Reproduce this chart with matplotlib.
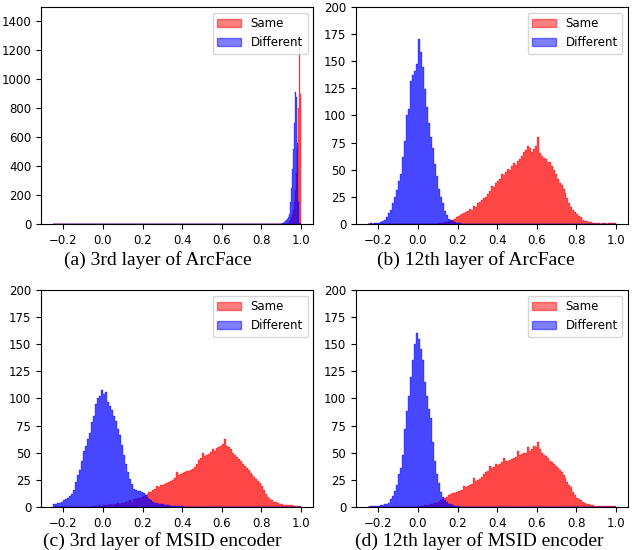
import numpy as np
import matplotlib
matplotlib.use("Agg")
import matplotlib.pyplot as plt
from matplotlib.patches import Patch
from matplotlib.ticker import MultipleLocator

# histogram counts: (first bin left edge, bin width, counts)
a_same_start, a_same_w = 0.93, 0.005
a_same = [5, 10, 18, 30, 45, 70, 100, 150, 230, 350, 520, 800, 1220, 900]
a_diff_start, a_diff_w = 0.90, 0.005
a_diff = [3, 5, 8, 12, 18, 25, 35, 45, 70, 150, 250, 380, 520, 700, 910, 880,
          560, 150, 10]

b_same_start, b_same_w = 0.10, 0.01
b_same = [1, 1, 1, 2, 2, 3, 3, 4, 5, 6, 7, 8, 9, 10, 11, 12, 14, 13, 17, 16,
          19, 20, 22, 24, 25, 28, 30, 35, 34, 38, 40, 41, 46, 45, 48, 51, 50, 53,
          56, 54, 58, 60, 63, 66, 68, 72, 70, 66, 69, 72, 80, 65, 63, 61, 60, 57,
          57, 53, 50, 46, 41, 38, 36, 32, 29, 24, 19, 16, 13, 11, 9, 7, 6, 4, 3,
          3, 2, 2, 1, 1, 1, 1, 0, 1, 1, 0, 1, 1, 1, 1]
b_diff_start, b_diff_w = -0.24, 0.01
b_diff = [1, 0, 1, 1, 1, 2, 3, 4, 6, 10, 13, 19, 25, 31, 40, 46, 62, 76, 100,
          106, 132, 137, 141, 147, 170, 158, 145, 124, 108, 93, 80, 70, 55, 44,
          32, 25, 19, 12, 8, 5, 4, 3, 2, 1, 1, 1]

c_same_start, c_same_w = -0.05, 0.01
c_same = [1, 1, 1, 2, 1, 2, 2, 2, 3, 2, 3, 3, 4, 3, 4, 4, 5, 5, 6, 5, 7, 7, 8,
          8, 9, 10, 11, 12, 14, 14, 16, 17, 19, 18, 20, 20, 21, 22, 23, 24, 25,
          27, 32, 29, 30, 31, 32, 33, 33, 34, 35, 37, 40, 43, 45, 50, 47, 48, 49,
          51, 53, 52, 54, 55, 56, 58, 63, 56, 55, 53, 50, 48, 46, 44, 42, 40, 38,
          36, 34, 31, 29, 28, 26, 24, 22, 19, 16, 12, 9, 7, 6, 5, 5, 4, 3, 3, 2,
          2, 2, 2, 2, 1, 1, 1, 1]
c_diff_start, c_diff_w = -0.25, 0.01
c_diff = [3, 3, 4, 4, 5, 6, 7, 8, 10, 12, 16, 23, 29, 34, 42, 52, 56, 63, 68,
          78, 84, 95, 100, 102, 108, 104, 106, 97, 93, 89, 84, 79, 72, 66, 57, 48,
          40, 32, 26, 21, 17, 16, 15, 15, 14, 13, 11, 9, 7, 6, 5, 4, 4, 3, 3, 3,
          2, 2, 2, 1, 1, 1, 1, 1, 1, 1]

d_same_start, d_same_w = 0.0, 0.01
d_same = [1, 1, 1, 2, 2, 2, 3, 3, 4, 4, 5, 6, 7, 8, 9, 11, 12, 13, 13, 14, 15,
          15, 16, 19, 18, 19, 20, 21, 27, 24, 25, 26, 28, 30, 32, 33, 38, 36, 37,
          40, 39, 40, 41, 45, 42, 42, 43, 44, 45, 46, 52, 48, 49, 50, 50, 55, 52,
          53, 56, 55, 60, 53, 50, 48, 47, 45, 42, 41, 40, 38, 36, 34, 32, 29, 27,
          23, 20, 18, 14, 11, 8, 7, 6, 5, 4, 3, 3, 2, 2, 1, 1, 1, 1, 1, 1, 1, 1,
          1, 1, 1]
d_diff_start, d_diff_w = -0.24, 0.01
d_diff = [1, 1, 1, 1, 1, 2, 2, 3, 3, 4, 7, 10, 15, 20, 30, 36, 48, 72, 88, 102,
          120, 135, 150, 160, 155, 145, 135, 115, 102, 90, 82, 60, 42, 30, 22, 14,
          9, 6, 5, 3, 3, 2, 1, 1, 1]

captions = ["(a) 3rd layer of ArcFace", "(b) 12th layer of ArcFace",
            "(c) 3rd layer of MSID encoder", "(d) 12th layer of MSID encoder"]
labels = ["Same", "Different"]

panels = [
    (a_same_start, a_same_w, a_same, a_diff_start, a_diff_w, a_diff, 1500, 200),
    (b_same_start, b_same_w, b_same, b_diff_start, b_diff_w, b_diff, 200, 25),
    (c_same_start, c_same_w, c_same, c_diff_start, c_diff_w, c_diff, 200, 25),
    (d_same_start, d_same_w, d_same, d_diff_start, d_diff_w, d_diff, 200, 25),
]


def full_hist(start, w, counts, lo=-0.25, hi=1.0):
    # put the read counts into bins covering the whole [-0.25, 1.0] range
    n = int(round((hi - lo) / w))
    edges = lo + w * np.arange(n + 1)
    weights = np.zeros(n)
    i0 = int(round((start - lo) / w))
    weights[i0:i0 + len(counts)] = counts[:n - i0]
    centers = 0.5 * (edges[:-1] + edges[1:])
    return centers, edges, weights


fig = plt.figure(figsize=(6.32, 5.50), dpi=100)
pos = [(0.0649, 0.5927), (0.5633, 0.5927), (0.0649, 0.0782), (0.5633, 0.0782)]
cap_xy = [(0.249, 0.527), (0.753, 0.527), (0.257, 0.016), (0.758, 0.016)]

for k, (ss, sw, sc, ds, dw, dc, ytop, ystep) in enumerate(panels):
    ax = fig.add_axes([pos[k][0], pos[k][1], 0.431, 0.395])
    for start, w, cnt, col in [(ss, sw, sc, 'red'), (ds, dw, dc, 'blue')]:
        cx, ed, wt = full_hist(start, w, cnt)
        ax.hist(cx, bins=ed, weights=wt, histtype='stepfilled', color=col,
                alpha=0.72, edgecolor=col, linewidth=0.3)
    ax.set_xlim(-0.3125, 1.0625)
    ax.set_ylim(0, ytop)
    ax.xaxis.set_major_locator(MultipleLocator(0.2))
    ax.yaxis.set_major_locator(MultipleLocator(ystep))
    ax.tick_params(labelsize=8.5, length=3.5, width=0.8)
    handles = [Patch(color='red', alpha=0.5), Patch(color='blue', alpha=0.5)]
    ax.legend(handles, labels, loc='upper right', fontsize=8.5)
    fig.text(cap_xy[k][0], cap_xy[k][1], captions[k], ha='center', va='center',
             family='Liberation Serif', fontsize=14)

fig.savefig('out.png', dpi=100)
